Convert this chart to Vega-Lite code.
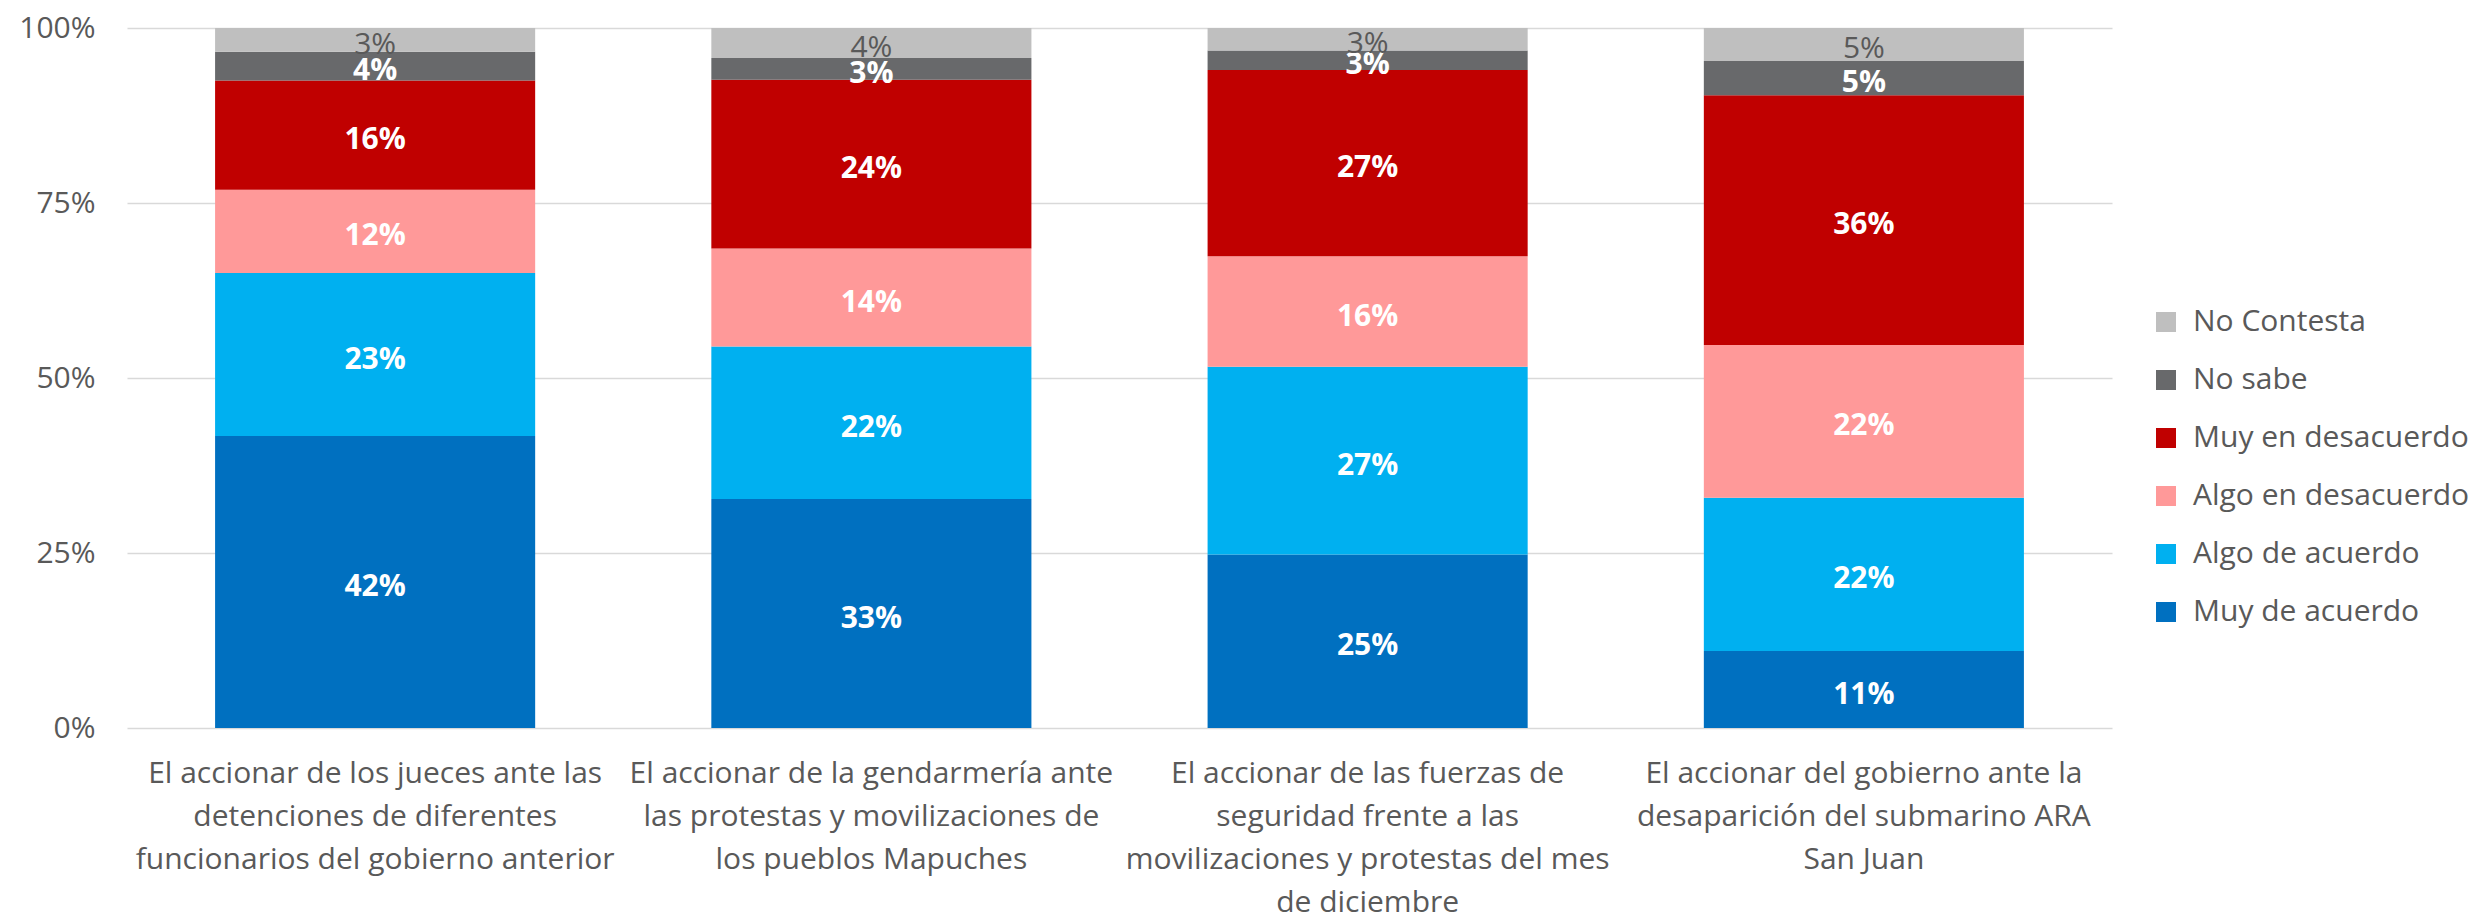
{
  "$schema": "https://vega.github.io/schema/vega-lite/v6.json",
  "width": 1985,
  "height": 700,
  "autosize": {"type": "none"},
  "padding": {"left": 127, "top": 28, "right": 360, "bottom": 188},
  "background": "white",
  "config": {
    "font": "Open Sans",
    "view": {"stroke": null}
  },
  "data": {
    "values": [
      {"item": "El accionar de los jueces ante las\ndetenciones de diferentes\nfuncionarios del gobierno anterior", "resp": "Muy de acuerdo", "ord": 1, "value": 41.7},
      {"item": "El accionar de los jueces ante las\ndetenciones de diferentes\nfuncionarios del gobierno anterior", "resp": "Algo de acuerdo", "ord": 2, "value": 23.3},
      {"item": "El accionar de los jueces ante las\ndetenciones de diferentes\nfuncionarios del gobierno anterior", "resp": "Algo en desacuerdo", "ord": 3, "value": 11.9},
      {"item": "El accionar de los jueces ante las\ndetenciones de diferentes\nfuncionarios del gobierno anterior", "resp": "Muy en desacuerdo", "ord": 4, "value": 15.6},
      {"item": "El accionar de los jueces ante las\ndetenciones de diferentes\nfuncionarios del gobierno anterior", "resp": "No sabe", "ord": 5, "value": 4.1},
      {"item": "El accionar de los jueces ante las\ndetenciones de diferentes\nfuncionarios del gobierno anterior", "resp": "No Contesta", "ord": 6, "value": 3.4},
      {"item": "El accionar de la gendarmería ante\nlas protestas y movilizaciones de\nlos pueblos Mapuches", "resp": "Muy de acuerdo", "ord": 1, "value": 32.7},
      {"item": "El accionar de la gendarmería ante\nlas protestas y movilizaciones de\nlos pueblos Mapuches", "resp": "Algo de acuerdo", "ord": 2, "value": 21.8},
      {"item": "El accionar de la gendarmería ante\nlas protestas y movilizaciones de\nlos pueblos Mapuches", "resp": "Algo en desacuerdo", "ord": 3, "value": 14.0},
      {"item": "El accionar de la gendarmería ante\nlas protestas y movilizaciones de\nlos pueblos Mapuches", "resp": "Muy en desacuerdo", "ord": 4, "value": 24.1},
      {"item": "El accionar de la gendarmería ante\nlas protestas y movilizaciones de\nlos pueblos Mapuches", "resp": "No sabe", "ord": 5, "value": 3.1},
      {"item": "El accionar de la gendarmería ante\nlas protestas y movilizaciones de\nlos pueblos Mapuches", "resp": "No Contesta", "ord": 6, "value": 4.3},
      {"item": "El accionar de las fuerzas de\nseguridad frente a las\nmovilizaciones y protestas del mes\nde diciembre", "resp": "Muy de acuerdo", "ord": 1, "value": 24.8},
      {"item": "El accionar de las fuerzas de\nseguridad frente a las\nmovilizaciones y protestas del mes\nde diciembre", "resp": "Algo de acuerdo", "ord": 2, "value": 26.8},
      {"item": "El accionar de las fuerzas de\nseguridad frente a las\nmovilizaciones y protestas del mes\nde diciembre", "resp": "Algo en desacuerdo", "ord": 3, "value": 15.8},
      {"item": "El accionar de las fuerzas de\nseguridad frente a las\nmovilizaciones y protestas del mes\nde diciembre", "resp": "Muy en desacuerdo", "ord": 4, "value": 26.6},
      {"item": "El accionar de las fuerzas de\nseguridad frente a las\nmovilizaciones y protestas del mes\nde diciembre", "resp": "No sabe", "ord": 5, "value": 2.8},
      {"item": "El accionar de las fuerzas de\nseguridad frente a las\nmovilizaciones y protestas del mes\nde diciembre", "resp": "No Contesta", "ord": 6, "value": 3.2},
      {"item": "El accionar del gobierno ante la\ndesaparición del submarino ARA\nSan Juan", "resp": "Muy de acuerdo", "ord": 1, "value": 11.0},
      {"item": "El accionar del gobierno ante la\ndesaparición del submarino ARA\nSan Juan", "resp": "Algo de acuerdo", "ord": 2, "value": 21.9},
      {"item": "El accionar del gobierno ante la\ndesaparición del submarino ARA\nSan Juan", "resp": "Algo en desacuerdo", "ord": 3, "value": 21.8},
      {"item": "El accionar del gobierno ante la\ndesaparición del submarino ARA\nSan Juan", "resp": "Muy en desacuerdo", "ord": 4, "value": 35.7},
      {"item": "El accionar del gobierno ante la\ndesaparición del submarino ARA\nSan Juan", "resp": "No sabe", "ord": 5, "value": 4.9},
      {"item": "El accionar del gobierno ante la\ndesaparición del submarino ARA\nSan Juan", "resp": "No Contesta", "ord": 6, "value": 4.7}
    ]
  },
  "transform": [
    {"stack": "value", "groupby": ["item"], "sort": [{"field": "ord", "order": "ascending"}], "as": ["v0", "v1"]},
    {"calculate": "(datum.v0 + datum.v1) / 2", "as": "mid"},
    {"calculate": "format(datum.value, '.0f') + '%'", "as": "lbl"}
  ],
  "encoding": {
    "x": {
      "field": "item", "type": "nominal", "sort": null, "title": null,
      "scale": {"paddingInner": 0.355, "paddingOuter": 0.1775},
      "axis": {
        "labelAngle": 0, "labelFontSize": 30, "labelColor": "#595959",
        "labelLineHeight": 43, "labelPadding": 30, "ticks": false, "domain": false,
        "labelExpr": "split(datum.label, '\\n')", "labelLimit": 0, "labelBaseline": "top"
      }
    }
  },
  "layer": [
    {
      "mark": {"type": "bar"},
      "encoding": {
        "y": {
          "field": "v0", "type": "quantitative", "title": null,
          "scale": {"domain": [0, 100], "nice": false},
          "axis": {
            "values": [0, 25, 50, 75, 100], "labelExpr": "datum.value + '%'",
            "labelFontSize": 30, "labelColor": "#595959", "labelPadding": 32,
            "ticks": false, "domain": false, "gridColor": "#d9d9d9", "gridWidth": 1.5
          }
        },
        "y2": {"field": "v1"},
        "color": {
          "field": "resp", "type": "nominal", "title": null,
          "scale": {
            "domain": ["No Contesta", "No sabe", "Muy en desacuerdo", "Algo en desacuerdo", "Algo de acuerdo", "Muy de acuerdo"],
            "range": ["#BFBFBF", "#68696B", "#C00000", "#FF9999", "#00B0F0", "#0070C0"]
          },
          "legend": {
            "orient": "none", "legendX": 2024, "legendY": 279,
            "symbolType": "square", "symbolSize": 400, "symbolStrokeWidth": 0,
            "labelFontSize": 30, "labelColor": "#595959", "labelOffset": 12, "labelLimit": 0,
            "rowPadding": 28, "padding": 0, "symbolOffset": 0
          }
        }
      }
    },
    {
      "transform": [{"filter": "datum.resp != 'No Contesta'"}],
      "mark": {"type": "text", "color": "white", "fontWeight": "bold", "fontSize": 30, "baseline": "middle", "align": "center", "dy": 5},
      "encoding": {
        "y": {"field": "mid", "type": "quantitative"},
        "text": {"field": "lbl", "type": "nominal"}
      }
    },
    {
      "transform": [{"filter": "datum.resp == 'No Contesta'"}],
      "mark": {"type": "text", "color": "#595959", "fontSize": 30, "baseline": "middle", "align": "center", "dy": 5},
      "encoding": {
        "y": {"field": "mid", "type": "quantitative"},
        "text": {"field": "lbl", "type": "nominal"}
      }
    }
  ]
}
